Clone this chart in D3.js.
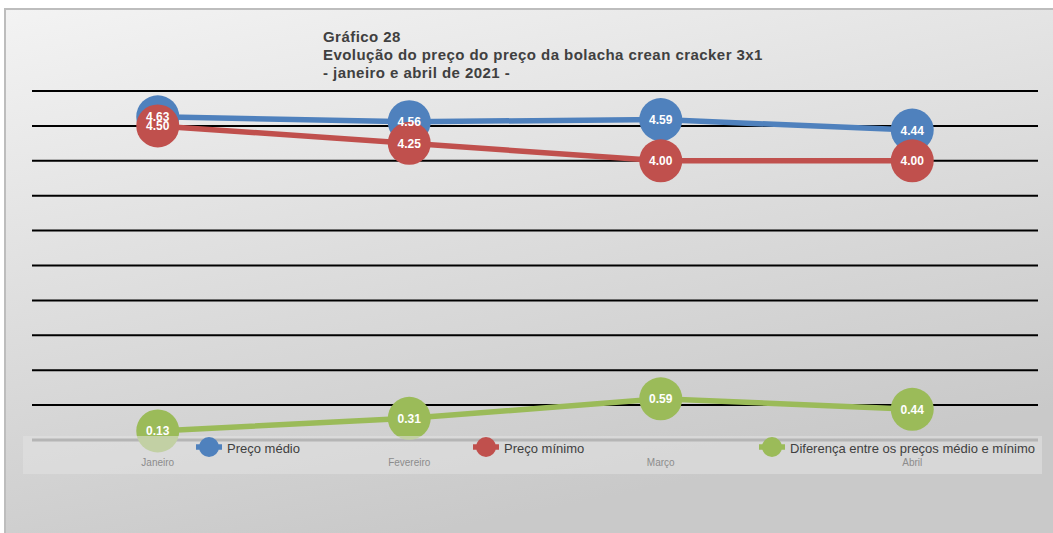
<!DOCTYPE html>
<html>
<head>
  <meta charset="utf-8">
  <script src="https://d3js.org/d3.v7.min.js"></script>
  <style>
    body { margin: 0; background: #ffffff; }
    text { font-family: "Liberation Sans", Arial, sans-serif; }
  </style>
</head>
<body>
  <div id="chart"></div>
  <script>
    // Data
    var months = ['Janeiro', 'Fevereiro', 'Março', 'Abril'];
    var precoMedio = [4.63, 4.56, 4.59, 4.44];
    var precoMinimo = [4.50, 4.25, 4.00, 4.00];
    var diferenca = [0.13, 0.31, 0.59, 0.44];
    var seriesNames = ['Preço médio', 'Preço mínimo', 'Diferença entre os preços médio e mínimo'];
    var seriesColors = ['#4f81bd', '#c0504d', '#9bbb59'];
    var gridTicks = [0, 0.5, 1, 1.5, 2, 2.5, 3, 3.5, 4, 4.5, 5];
    var titleLines = ['Gráfico 28', 'Evolução do preço do preço da bolacha crean cracker 3x1', '- janeiro e abril de 2021 -'];

    var W = 1053, H = 533;
    var margin = {top: 91, right: 15, bottom: 93, left: 32},
        width = 1038 - margin.left,
        height = 440 - margin.top;

    var svg = d3.select('#chart').append('svg')
        .attr('width', W)
        .attr('height', H);

    // background frame with a soft gradient
    var defs = svg.append('defs');
    var grad = defs.append('linearGradient')
        .attr('id', 'bg')
        .attr('x1', '0%').attr('y1', '0%')
        .attr('x2', '40%').attr('y2', '100%');
    grad.append('stop').attr('offset', '0%').attr('stop-color', '#f3f3f3');
    grad.append('stop').attr('offset', '100%').attr('stop-color', '#c9c9c9');

    svg.append('rect')
        .attr('x', 5).attr('y', 9)
        .attr('width', W - 4).attr('height', H - 8)
        .attr('fill', 'url(#bg)')
        .attr('stroke', '#bdbdbd')
        .attr('stroke-width', 2);

    // title
    svg.append('g').selectAll('text')
        .data(titleLines)
        .enter().append('text')
        .attr('x', 323)
        .attr('y', function(d, i) { return 42 + i * 18; })
        .attr('font-size', '15px')
        .attr('letter-spacing', '0.45px')
        .attr('font-weight', 'bold')
        .attr('fill', '#404040')
        .text(function(d) { return d; });

    var g = svg.append('g')
        .attr('transform', 'translate(' + margin.left + ',' + margin.top + ')');

    var x = d3.scaleBand().domain(months).range([0, width]);
    var y = d3.scaleLinear().domain([0, 5]).range([height, 0]);

    // gridlines
    g.append('g').selectAll('line')
        .data(gridTicks.filter(function(d) { return d > 0; }))
        .enter().append('line')
        .attr('x1', 0).attr('x2', width)
        .attr('y1', function(d) { return y(d); })
        .attr('y2', function(d) { return y(d); })
        .attr('stroke', '#000')
        .attr('stroke-width', 2);

    // category axis line
    g.append('line')
        .attr('x1', 0).attr('x2', width)
        .attr('y1', y(0)).attr('y2', y(0))
        .attr('stroke', '#7f7f7f')
        .attr('stroke-width', 3);

    var allSeries = [precoMedio, precoMinimo, diferenca];

    var line = d3.line()
        .x(function(d, i) { return x(months[i]) + x.bandwidth() / 2; })
        .y(function(d) { return y(d); });

    // draw green first, then red, then blue lines; circles after
    [2, 1, 0].forEach(function(s) {
      g.append('path')
          .datum(allSeries[s])
          .attr('d', line)
          .attr('fill', 'none')
          .attr('stroke', seriesColors[s])
          .attr('stroke-width', 5.5);
    });

    [2, 0, 1].forEach(function(s) {
      g.append('g').selectAll('circle')
          .data(allSeries[s])
          .enter().append('circle')
          .attr('cx', function(d, i) { return x(months[i]) + x.bandwidth() / 2; })
          .attr('cy', function(d) { return y(d); })
          .attr('r', 21.5)
          .attr('fill', seriesColors[s]);
    });

    // labels on top
    [2, 0, 1].forEach(function(s) {
      g.append('g').selectAll('text')
          .data(allSeries[s])
          .enter().append('text')
          .attr('x', function(d, i) { return x(months[i]) + x.bandwidth() / 2; })
          .attr('y', function(d) { return y(d) + 4.5; })
          .attr('text-anchor', 'middle')
          .attr('font-size', '12px')
          .attr('font-weight', 'bold')
          .attr('fill', '#fff')
          .text(function(d) { return d.toFixed(2); });
    });

    // legend box (translucent, overlapping the bottom of the plot)
    svg.append('rect')
        .attr('x', 23).attr('y', 436)
        .attr('width', 1019).attr('height', 38)
        .attr('fill', '#e2e2e2')
        .attr('opacity', 0.55);

    // category labels
    svg.append('g').selectAll('text')
        .data(months)
        .enter().append('text')
        .attr('x', function(d) { return margin.left + x(d) + x.bandwidth() / 2; })
        .attr('y', 466)
        .attr('text-anchor', 'middle')
        .attr('font-size', '10px')
        .attr('fill', '#8c8c8c')
        .text(function(d) { return d; });

    // legend items
    var legendX = [209, 486, 772];
    var leg = svg.append('g').selectAll('g')
        .data(seriesNames)
        .enter().append('g')
        .attr('transform', function(d, i) { return 'translate(' + legendX[i] + ',447)'; });
    leg.append('line')
        .attr('x1', -13).attr('x2', 13)
        .attr('stroke', function(d, i) { return seriesColors[i]; })
        .attr('stroke-width', 5.5);
    leg.append('circle')
        .attr('r', 10)
        .attr('fill', function(d, i) { return seriesColors[i]; });
    leg.append('text')
        .attr('x', 18)
        .attr('y', 6)
        .attr('font-size', '13px')
        .attr('fill', '#404040')
        .text(function(d) { return d; });
  </script>
</body>
</html>
